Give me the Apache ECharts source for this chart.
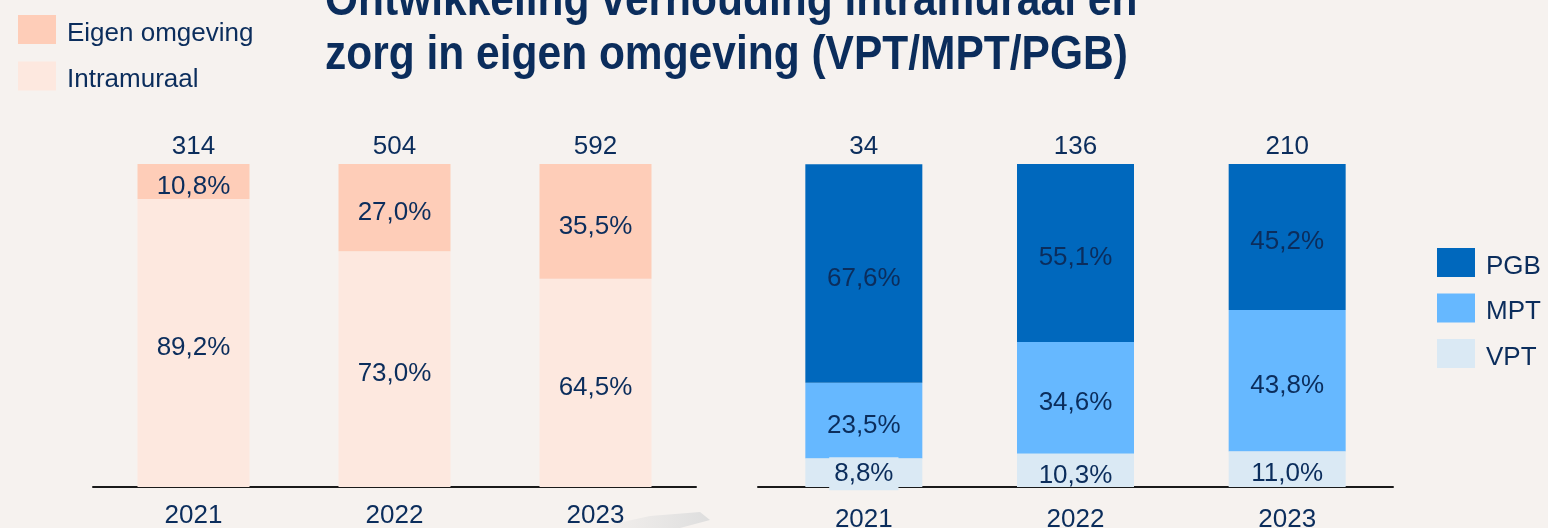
<!DOCTYPE html>
<html>
<head>
<meta charset="utf-8">
<script src="https://cdn.jsdelivr.net/npm/echarts@6/dist/echarts.min.js"></script>
<style>
  html, body { margin: 0; padding: 0; background: #f6f2ef; }
  #chart { width: 1548px; height: 528px; }
</style>
</head>
<body>
<div id="chart"></div>
<script>
var years = ['2021', '2022', '2023'];

// links: intramuraal vs eigen omgeving (aandeel in %)
var leftTotals = [314, 504, 592];
var eigenOmgeving = [10.8, 27.0, 35.5];
var intramuraal = [89.2, 73.0, 64.5];

// rechts: verdeling VPT/MPT/PGB (aandeel in %)
var rightTotals = [34, 136, 210];
var vpt = [8.8, 10.3, 11.0];
var mpt = [23.5, 34.6, 43.8];
var pgb = [67.6, 55.1, 45.2];

var titleText = 'Ontwikkeling verhouding intramuraal en\nzorg in eigen omgeving (VPT/MPT/PGB)';

var navy = '#0b2d5c';
var font = 'Arial, "Liberation Sans", sans-serif';
var fs = 26;

var myChart = echarts.init(document.getElementById('chart'));

function pct(params) {
    return params.value.toFixed(1).replace('.', ',') + '%';
}

var pctLabel = {
    show: true,
    position: 'inside',
    offset: [0, 5],
    color: navy,
    fontSize: fs,
    fontFamily: font,
    formatter: pct
};

function totalSeries(idx, totals) {
    return {
        type: 'scatter',
        xAxisIndex: idx,
        yAxisIndex: idx,
        symbolSize: 0,
        silent: true,
        itemStyle: { color: 'transparent', opacity: 1 },
        label: {
            show: true,
            position: 'top',
            distance: 4,
            color: navy,
            fontSize: fs,
            fontFamily: font,
            formatter: function (p) { return totals[p.dataIndex]; }
        },
        data: totals.map(function () { return 100; })
    };
}

// 8,8% label krijgt een eigen vlak (steekt buiten het segment uit)
var vptData = vpt.map(function (v, i) {
    if (i === 0) {
        return {
            value: v,
            label: { backgroundColor: '#dae9f4', padding: [4, 5, 3, 5], offset: [0, 1] }
        };
    }
    return v;
});

var legendText = {
    color: navy, fontSize: fs, fontFamily: font,
    padding: [0, 0, 0, 6],
    rich: { t: { fontSize: fs, fontFamily: font, color: navy, padding: [8, 0, 0, 0] } }
};

var option = {
    backgroundColor: '#f6f2ef',
    animation: false,
    legend: [
        {
            orient: 'vertical',
            left: 13,
            top: 10,
            itemWidth: 38,
            itemHeight: 29,
            itemGap: 15,
            icon: 'rect',
            data: ['Eigen omgeving', 'Intramuraal'],
            formatter: '{t|{name}}',
            textStyle: legendText
        },
        {
            orient: 'vertical',
            left: 1432,
            top: 243,
            itemWidth: 38,
            itemHeight: 29,
            itemGap: 14,
            icon: 'rect',
            data: ['PGB', 'MPT', 'VPT'],
            formatter: '{t|{name}}',
            textStyle: legendText
        }
    ],
    grid: [
        { left: 93, width: 603, top: 164, height: 323, outerBoundsMode: 'none' },
        { left: 758, width: 635, top: 164, height: 323, outerBoundsMode: 'none' }
    ],
    xAxis: [0, 1].map(function (i) {
        return {
            type: 'category',
            gridIndex: i,
            data: years,
            axisLine: { lineStyle: { color: '#1a1a1a', width: 2 } },
            axisTick: { show: false },
            axisLabel: {
                color: navy,
                fontSize: fs,
                fontFamily: font,
                margin: i === 0 ? 16 : 20
            },
            z: 1
        };
    }),
    yAxis: [0, 1].map(function (i) {
        return {
            type: 'value',
            gridIndex: i,
            min: 0,
            max: 100,
            show: false,
            splitLine: { show: false }
        };
    }),
    series: [
        {
            name: 'Intramuraal', type: 'bar', stack: 'links',
            xAxisIndex: 0, yAxisIndex: 0, barWidth: 112,
            itemStyle: { color: '#fde8df' },
            label: pctLabel, data: intramuraal
        },
        {
            name: 'Eigen omgeving', type: 'bar', stack: 'links',
            xAxisIndex: 0, yAxisIndex: 0, barWidth: 112,
            itemStyle: { color: '#fecdb8' },
            label: pctLabel, data: eigenOmgeving
        },
        {
            name: 'VPT', type: 'bar', stack: 'rechts',
            xAxisIndex: 1, yAxisIndex: 1, barWidth: 117,
            itemStyle: { color: '#dae9f4' },
            label: pctLabel, data: vptData, z: 3
        },
        {
            name: 'MPT', type: 'bar', stack: 'rechts',
            xAxisIndex: 1, yAxisIndex: 1, barWidth: 117,
            itemStyle: { color: '#66b8ff' },
            label: pctLabel, data: mpt
        },
        {
            name: 'PGB', type: 'bar', stack: 'rechts',
            xAxisIndex: 1, yAxisIndex: 1, barWidth: 117,
            itemStyle: { color: '#0068bd' },
            label: pctLabel, data: pgb
        },
        totalSeries(0, leftTotals),
        totalSeries(1, rightTotals)
    ],
    graphic: [
        {
            // titel, bovenste regel valt deels buiten beeld
            type: 'text',
            left: 325,
            top: -25,
            scaleY: 1.14,
            silent: true,
            style: {
                text: titleText,
                fill: navy,
                font: 'bold 42.5px ' + font,
                lineHeight: 47.4
            }
        },
        {
            // grijze schaduwpunt onder 2023 (links)
            type: 'polygon',
            silent: true,
            shape: { points: [[595, 528], [650, 516], [700, 512], [710, 520], [680, 528]] },
            style: {
                fill: new echarts.graphic.LinearGradient(0, 0, 1, 0, [
                    { offset: 0, color: 'rgba(225,225,225,0.1)' },
                    { offset: 1, color: 'rgba(222,222,222,1)' }
                ])
            }
        }
    ]
};

myChart.setOption(option);
</script>
</body>
</html>
